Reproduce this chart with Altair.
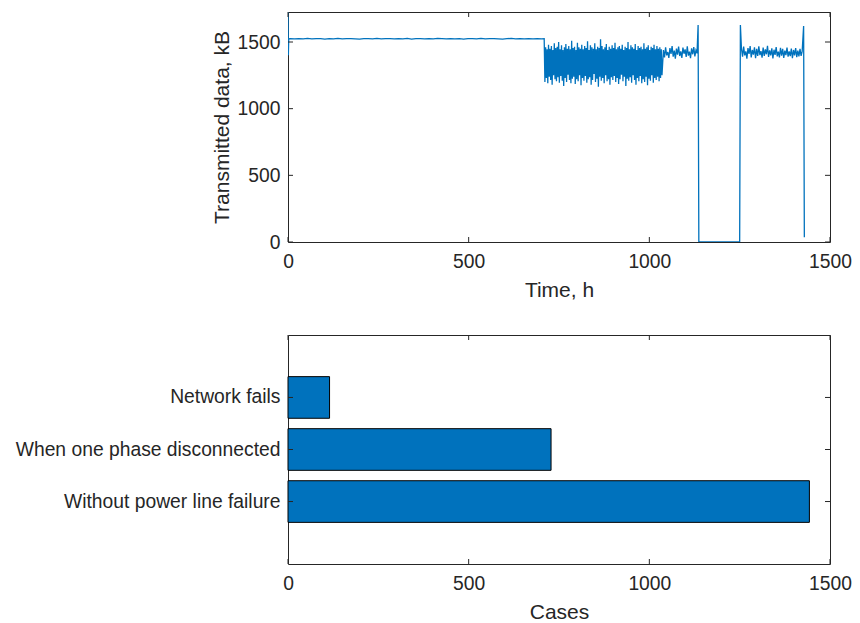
import altair as alt
import pandas as pd

BLUE = "#0072BD"
INK = "#262626"
FONT = "Liberation Sans"

# ---------------- top panel: transmitted data per hour ----------------
start_hours = [0, 1, 2]
start_values = [1725, 1400, 1524]

calm_first_hour, calm_step = 6, 12
calm_values = [
    1526, 1524, 1525, 1523, 1527, 1524, 1526, 1525, 1522, 1526,
    1524, 1527, 1523, 1525, 1526, 1524, 1522, 1526, 1525, 1523,
    1527, 1524, 1525, 1526, 1523, 1525, 1524, 1527, 1522, 1525,
    1526, 1523, 1525, 1524, 1527, 1525, 1523, 1526, 1524, 1525,
    1522, 1526, 1525, 1524, 1527, 1523, 1525, 1526, 1524, 1522,
    1525, 1527, 1524, 1525, 1523, 1526, 1524, 1525, 1524,
]

unstable_first_hour, unstable_step = 709, 2
unstable_values = [
    1525, 1200, 1460, 1230, 1445, 1190, 1480, 1240, 1450, 1215, 1470, 1180, 1440, 1250, 1490, 1220, 1455, 1205, 1465, 1235,
    1500, 1195, 1445, 1245, 1475, 1210, 1440, 1170, 1460, 1230, 1485, 1200, 1450, 1255, 1470, 1215, 1445, 1190, 1510, 1225,
    1455, 1240, 1465, 1185, 1440, 1220, 1495, 1205, 1460, 1250, 1450, 1175, 1480, 1230, 1445, 1210, 1470, 1245, 1455, 1195,
    1505, 1220, 1440, 1235, 1475, 1180, 1460, 1215, 1450, 1260, 1490, 1200, 1445, 1225, 1465, 1165, 1455, 1240, 1520, 1210,
    1470, 1230, 1445, 1190, 1460, 1250, 1485, 1205, 1440, 1220, 1465, 1180, 1450, 1235, 1475, 1215, 1455, 1245,
    1495, 1200, 1445, 1230, 1460, 1185, 1470, 1220, 1450, 1255, 1480, 1205, 1440, 1240, 1465, 1170, 1455, 1225, 1500, 1210,
    1445, 1235, 1475, 1195, 1460, 1250, 1450, 1215, 1485, 1180, 1440, 1230, 1470, 1205, 1455, 1245, 1465, 1190, 1445, 1220,
    1490, 1200, 1450, 1240, 1460, 1175, 1475, 1225, 1440, 1210, 1465, 1250, 1455, 1195, 1480, 1230, 1445, 1215, 1470, 1240,
    1450, 1205, 1460, 1230, 1445, 1250,
]

recovered_first_hour, recovered_step = 1039, 3
recovered_values = [
    1440, 1385, 1460, 1400, 1425, 1380, 1455, 1410, 1470, 1390,
    1435, 1375, 1450, 1405, 1465, 1395, 1430, 1380, 1458, 1412,
    1445, 1388, 1468, 1398, 1428, 1378, 1452, 1408, 1462, 1392,
    1438, 1415,
]

outage_hours = [1135, 1137, 1250, 1252]
outage_values = [1627, 0, 0, 1627]

restored_first_hour, restored_step = 1255, 3
restored_values = [
    1450, 1390, 1465, 1400, 1430, 1375, 1455, 1410, 1470, 1385,
    1440, 1405, 1460, 1378, 1448, 1395, 1468, 1402, 1432, 1382,
    1458, 1396, 1445, 1408, 1472, 1388, 1438, 1400, 1452, 1376,
    1442, 1404, 1462, 1392, 1428, 1385, 1456, 1398, 1448, 1380,
    1436, 1402, 1458, 1390, 1430, 1394, 1450, 1378, 1440, 1400,
    1455, 1386, 1435, 1392, 1448, 1396, 1430,
]

end_hours = [1427, 1429]
end_values = [1620, 35]

time_ticks = [0, 500, 1000, 1500]
kb_ticks = [0, 500, 1000, 1500]

# ---------------- bottom panel: cases ----------------
categories = ["Network fails", "When one phase disconnected", "Without power line failure"]
cases = [115, 728, 1443]
case_ticks = [0, 500, 1000, 1500]


def sample_hours(first, step, values):
    return [first + step * i for i in range(len(values))]


hours = (
    start_hours
    + sample_hours(calm_first_hour, calm_step, calm_values)
    + sample_hours(unstable_first_hour, unstable_step, unstable_values)
    + sample_hours(recovered_first_hour, recovered_step, recovered_values)
    + outage_hours
    + sample_hours(restored_first_hour, restored_step, restored_values)
    + end_hours
)
values = (
    start_values + calm_values + unstable_values + recovered_values
    + outage_values + restored_values + end_values
)
series = pd.DataFrame({"hour": hours, "kB": values})
bars_df = pd.DataFrame({"category": categories, "cases": cases})

W, H1, H2 = 542, 230, 229
TICK = 5

time_scale = alt.Scale(domain=[0, 1500], nice=False, zero=False)
kb_scale = alt.Scale(domain=[0, 1725], nice=False)
case_scale = alt.Scale(domain=[0, 1500], nice=False)
cat_scale = alt.Scale(paddingInner=0.2, paddingOuter=0.8)

time_axis = alt.Axis(values=time_ticks, format="d", title="Time, h")
kb_axis = alt.Axis(values=kb_ticks, format="d", title="Transmitted data, kB", titlePadding=5)
case_axis = alt.Axis(values=case_ticks, format="d", title="Cases")
cat_axis = alt.Axis(title=None)

line = alt.Chart(series).mark_line(color=BLUE, strokeWidth=1.3, clip=True).encode(
    x=alt.X("hour:Q", scale=time_scale, axis=time_axis),
    y=alt.Y("kB:Q", scale=kb_scale, axis=kb_axis),
)

tx = pd.DataFrame({"hour": time_ticks})
ty = pd.DataFrame({"kB": kb_ticks})
rule = dict(color=INK, strokeWidth=1)
top_ticks = [
    alt.Chart(tx).mark_rule(**rule).encode(
        x=alt.X("hour:Q", scale=time_scale, axis=time_axis), y=alt.value(H1), y2=alt.value(H1 - TICK)),
    alt.Chart(tx).mark_rule(**rule).encode(
        x=alt.X("hour:Q", scale=time_scale, axis=time_axis), y=alt.value(0), y2=alt.value(TICK)),
    alt.Chart(ty).mark_rule(**rule).encode(
        y=alt.Y("kB:Q", scale=kb_scale, axis=kb_axis), x=alt.value(0), x2=alt.value(TICK)),
    alt.Chart(ty).mark_rule(**rule).encode(
        y=alt.Y("kB:Q", scale=kb_scale, axis=kb_axis), x=alt.value(W - TICK), x2=alt.value(W)),
]
top = alt.layer(line, *top_ticks).properties(width=W, height=H1)

bars = alt.Chart(bars_df).mark_bar(color=BLUE, stroke="#000000", strokeWidth=1).encode(
    x=alt.X("cases:Q", scale=case_scale, axis=case_axis),
    y=alt.Y("category:N", sort=categories, scale=cat_scale, axis=cat_axis),
)
cx = pd.DataFrame({"cases": case_ticks})
cy = pd.DataFrame({"category": categories})
bottom_ticks = [
    alt.Chart(cx).mark_rule(**rule).encode(
        x=alt.X("cases:Q", scale=case_scale, axis=case_axis), y=alt.value(H2), y2=alt.value(H2 - TICK)),
    alt.Chart(cx).mark_rule(**rule).encode(
        x=alt.X("cases:Q", scale=case_scale, axis=case_axis), y=alt.value(0), y2=alt.value(TICK)),
    alt.Chart(cy).mark_rule(**rule).encode(
        y=alt.Y("category:N", sort=categories, scale=cat_scale, axis=cat_axis),
        x=alt.value(0), x2=alt.value(TICK)),
    alt.Chart(cy).mark_rule(**rule).encode(
        y=alt.Y("category:N", sort=categories, scale=cat_scale, axis=cat_axis),
        x=alt.value(W - TICK), x2=alt.value(W)),
]
bottom = alt.layer(bars, *bottom_ticks).properties(width=W, height=H2)

chart = (
    alt.vconcat(top, bottom, spacing=93, bounds="flush")
    .properties(padding={"left": 6, "top": 3, "right": 0, "bottom": 0})
    .configure_view(stroke=INK, strokeWidth=1)
    .configure_axis(
        domain=False, ticks=False, tickSize=0, grid=False,
        labelFont=FONT, labelFontSize=19.3, labelColor=INK, labelLimit=500, labelFlush=False,
        titleFont=FONT, titleFontSize=21, titleColor=INK, titleFontWeight="normal",
    )
    .configure_axisX(labelPadding=10, titlePadding=8)
    .configure_axisY(labelPadding=8)
)

chart.save("out.html", embed_options={"renderer": "svg", "actions": False})
